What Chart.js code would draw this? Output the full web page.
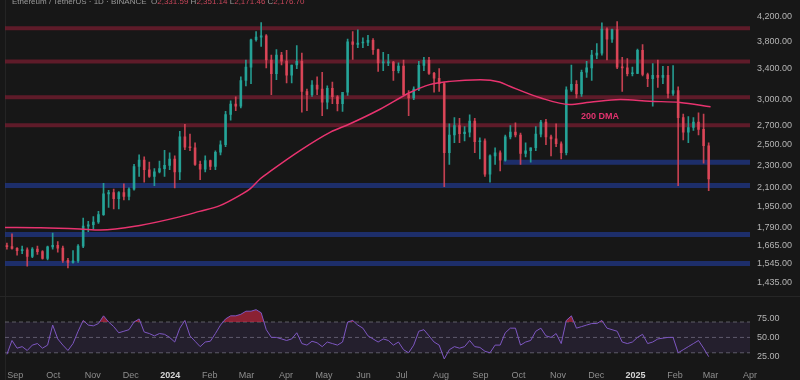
<!DOCTYPE html>
<html>
<head>
<meta charset="utf-8">
<script src="https://cdn.jsdelivr.net/npm/chart.js@4.4.1/dist/chart.umd.min.js"></script>
<style>
  html, body { margin: 0; padding: 0; background: #171717; }
  #wrap { position: relative; width: 800px; height: 380px; overflow: hidden; background: #171717;
          font-family: 'Liberation Sans', Arial, sans-serif; }
  #title { position: absolute; left: 12px; top: -3px; font-size: 8px; color: #9a9a9a; white-space: nowrap; z-index: 3; }
  #title b { font-weight: normal; color: #c8465a; }
  #priceBox { position: absolute; left: 0; top: -10px; width: 800px; height: 315px; }
  #rsiBox { position: absolute; left: 0; top: 290px; width: 800px; height: 96px; }
  #sep { position: absolute; left: 0; top: 296px; width: 800px; height: 1px; background: #262626; }
  #edge { position: absolute; left: 5px; top: 0; width: 1px; height: 380px; background: #242424; }
</style>
</head>
<body>
<div id="wrap">
  <div id="edge"></div>
  <div id="sep"></div>
  <div id="title">Ethereum / TetherUS · 1D · BINANCE &nbsp;O<b>2,331.59</b> H<b>2,351.14</b> L<b>2,171.46</b> C<b>2,176.70</b></div>
  <div id="priceBox"><canvas id="price"></canvas></div>
  <div id="rsiBox"><canvas id="rsi"></canvas></div>
</div>
<script>
// x values are days counted from 2023-09-01
var firstDay = -8;      // first candle starts 2023-08-24
var candleStep = 4;     // 4-day candles

var opens = [1662,1657,1645,1630,1636,1592,1640,1624,1580,1655,1665,1647,1567,1555,1565,1660,1800,1810,1830,1885,
  2050,2060,2010,2060,2030,2090,2290,2350,2260,2200,2240,2270,2300,2360,2240,2580,2475,2470,2310,2265,
  2345,2290,2425,2500,2825,2945,2920,3240,3420,3820,3860,3880,3520,3330,3590,3505,3310,3450,3500,3100,
  3060,3180,3130,2970,3140,3035,2950,3090,3790,3750,3770,3780,3810,3670,3480,3480,3490,3370,3435,3060,
  3020,3130,3445,3515,3335,3270,3200,2420,2600,2700,2615,2630,2750,2530,2540,2220,2390,2420,2350,2580,
  2630,2600,2415,2440,2470,2610,2740,2580,2560,2510,2420,3120,3190,3070,3350,3410,3590,3620,3990,3830,
  3980,3420,3410,3330,3335,3660,3320,3265,3310,3280,3310,3075,3110,2790,2630,2680,2740,2660,2490];
var highs = [1680,1745,1650,1660,1648,1650,1660,1630,1660,1750,1690,1660,1580,1630,1670,1860,1835,1870,1910,2140,
  2080,2090,2070,2135,2100,2310,2400,2380,2330,2270,2340,2445,2420,2390,2640,2715,2610,2520,2340,2390,
  2350,2440,2540,2860,2985,3035,3290,3520,3830,3950,4095,3900,3590,3670,3630,3660,3450,3730,3620,3130,
  3240,3290,3350,3170,3220,3050,3060,3830,3950,3975,3850,3890,3840,3680,3630,3600,3500,3480,3520,3110,
  3160,3500,3560,3560,3350,3400,3220,2720,2790,2780,2690,2820,2780,2570,2560,2400,2470,2440,2600,2700,
  2730,2620,2520,2470,2690,2760,2770,2600,2720,2530,3160,3450,3240,3380,3500,3660,3760,4090,4010,3990,
  4110,3560,3540,3420,3680,3745,3340,3470,3520,3430,3430,3440,3160,2830,2800,2790,2845,2830,2520];
var lows = [1640,1640,1600,1610,1531,1585,1605,1575,1570,1640,1620,1555,1520,1550,1555,1650,1760,1780,1820,1880,
  1940,1930,1930,2000,2000,2080,2200,2150,2190,2120,2230,2200,2260,2100,2170,2450,2440,2300,2170,2240,
  2260,2260,2400,2480,2760,2870,2900,3170,3200,3800,3720,3410,3060,3250,3450,3210,3210,3400,2850,2870,
  3040,3060,2810,2890,2950,2865,2860,3050,3530,3700,3700,3730,3600,3360,3370,3440,3240,3340,3050,2810,
  3000,3110,3370,3320,3090,3100,2110,2310,2520,2520,2540,2580,2420,2360,2200,2150,2310,2250,2340,2560,
  2580,2310,2380,2330,2440,2580,2500,2390,2480,2360,2400,3100,3020,3040,3280,3240,3540,3590,3520,3780,
  3400,3100,3300,3300,3330,3300,3160,2920,3150,3200,3020,3050,2120,2550,2520,2650,2600,2320,2077];
var closes = [1657,1645,1630,1636,1592,1640,1624,1580,1655,1665,1647,1567,1555,1565,1660,1800,1810,1830,1885,2050,
  2060,2010,2060,2030,2090,2290,2350,2260,2200,2240,2270,2300,2360,2240,2580,2475,2470,2310,2265,2345,
  2290,2425,2500,2825,2945,2920,3240,3420,3820,3860,3880,3520,3330,3590,3505,3310,3450,3500,3100,3060,
  3180,3130,2970,3140,3035,2950,3090,3790,3750,3770,3780,3810,3670,3480,3480,3490,3370,3435,3060,3020,
  3130,3445,3515,3335,3270,3200,2420,2600,2700,2615,2630,2750,2530,2540,2220,2390,2420,2350,2580,2630,
  2600,2415,2440,2470,2610,2740,2580,2560,2510,2420,3120,3190,3070,3350,3410,3590,3620,3990,3830,3980,
  3420,3410,3330,3335,3660,3320,3265,3310,3280,3310,3075,3110,2790,2630,2680,2740,2660,2490,2177];

var rsiValues = [28,46,36,38,33,40,42,36,40,66,48,40,33,42,58,72,66,65,68,78,
  70,64,56,58,60,70,74,57,55,52,55,54,50,44,62,72,52,45,38,44,
  45,55,66,74,78,78,80,84,84,86,82,60,50,50,48,46,48,56,42,40,
  45,43,38,44,42,40,44,70,72,66,62,52,48,44,48,46,40,44,34,30,
  40,58,60,52,44,40,22,34,38,36,38,46,38,37,32,30,40,40,56,62,
  62,40,44,46,58,62,52,50,55,42,72,78,62,64,66,68,68,72,62,60,
  58,44,42,44,50,54,42,44,48,49,50,50,30,34,38,42,46,36,25];

var dmaDays = [-8,20,51,67,98,130,145,161,177,185,193,200,224,248,263,287,311,326,342,366,381,389,413,436,452,476,499,523,547];
var dmaValues = [1790,1788,1779,1772,1805,1870,1910,1955,2040,2094,2181,2240,2441,2630,2718,2885,3090,3187,3229,3250,3220,3166,3022,2941,2967,3000,2980,2965,2915];

var redLevels = [4000, 3500, 3030, 2705];
var blueLevels = [2330, 2120, 1740, 1548];
var blueStarts = [384, -8, -8, -8];

var priceTicks = [4200, 3800, 3400, 3000, 2700, 2500, 2300, 2100, 1950, 1790, 1665, 1545, 1435];
var rsiTicks = [25, 50, 75];
var monthDays = [0,30,61,91,122,153,182,213,243,274,304,335,366,396,427,457,488,519,547,578];
var monthLabels = ['Sep','Oct','Nov','Dec','2024','Feb','Mar','Apr','May','Jun','Jul','Aug','Sep','Oct','Nov','Dec','2025','Feb','Mar','Apr'];

var lastDay = 578;
var upColor = 'rgba(38,166,154,0.9)';
var downColor = 'rgba(226,72,90,0.85)';

Chart.defaults.font.family = "'Liberation Sans', Arial, sans-serif";
Chart.defaults.animation = false;

var candles = opens.map(function (o, i) {
  return { x: firstDay + i * candleStep + 1.5, o: o, h: highs[i], l: lows[i], c: closes[i] };
});
var candleColors = candles.map(function (c) { return c.c >= c.o ? upColor : downColor; });

function bandSet(level, start, color, width) {
  return { type: 'line', data: [{ x: start, y: level }, { x: lastDay, y: level }],
           borderColor: color, borderWidth: width, borderCapStyle: 'butt', pointRadius: 0, order: 5 };
}

var bands = [];
redLevels.forEach(function (v) { bands.push(bandSet(v, firstDay, 'rgba(125,30,50,0.7)', 4)); });
blueLevels.forEach(function (v, i) { bands.push(bandSet(v, blueStarts[i], 'rgba(32,55,135,0.75)', 5)); });

var dmaLabel = {
  id: 'dmaLabel',
  afterDatasetsDraw: function (chart) {
    var ctx = chart.ctx;
    ctx.save();
    ctx.font = "bold 9px 'Liberation Sans', Arial, sans-serif";
    ctx.fillStyle = '#e2336f';
    ctx.textAlign = 'center';
    ctx.textBaseline = 'middle';
    ctx.fillText('200 DMA', chart.scales.x.getPixelForValue(460), chart.scales.y.getPixelForValue(2803));
    ctx.restore();
  }
};

new Chart(document.getElementById('price'), {
  type: 'bar',
  data: {
    datasets: bands.concat([
      { type: 'bar', data: candles.map(function (c) { return { x: c.x, y: [c.l, c.h] }; }),
        backgroundColor: candleColors, barThickness: 1, grouped: false, order: 2 },
      { type: 'bar', data: candles.map(function (c) { return { x: c.x, y: [c.o, c.c] }; }),
        backgroundColor: candleColors, barThickness: 2, minBarLength: 1, grouped: false, order: 1 },
      { type: 'line', data: dmaDays.map(function (d, i) { return { x: d, y: dmaValues[i] }; }),
        borderColor: '#e8336f', borderWidth: 1.5, pointRadius: 0, cubicInterpolationMode: 'monotone', order: 0 }
    ])
  },
  options: {
    responsive: true,
    maintainAspectRatio: false,
    layout: { padding: { left: 5, right: 0, top: 12, bottom: 10 } },
    plugins: { legend: { display: false }, tooltip: { enabled: false } },
    scales: {
      x: { type: 'linear', min: firstDay, max: lastDay, offset: false, display: false },
      y: {
        type: 'logarithmic', position: 'right', min: 1376, max: 4442, beginAtZero: false,
        afterBuildTicks: function (s) { s.ticks = priceTicks.map(function (v) { return { value: v }; }); },
        afterFit: function (s) { s.width = 50; },
        grid: { display: false, drawTicks: false },
        border: { display: false },
        ticks: {
          autoSkip: false, padding: 7, color: '#b4b4b4', font: { size: 9 },
          callback: function (v) { return Number(v).toLocaleString('en-US', { minimumFractionDigits: 2, maximumFractionDigits: 2 }); }
        }
      }
    }
  },
  plugins: [dmaLabel]
});

function guide(level, extra) {
  var d = { data: [{ x: firstDay, y: level }, { x: lastDay, y: level }], borderColor: 'rgba(150,150,160,0.55)',
            borderDash: [4, 3], borderWidth: 1, pointRadius: 0, fill: false, order: 2 };
  return Object.assign(d, extra || {});
}

new Chart(document.getElementById('rsi'), {
  type: 'line',
  data: {
    datasets: [
      { data: rsiValues.map(function (v, i) { return { x: firstDay + i * candleStep + 1.5, y: v }; }),
        borderColor: '#7e57c2', borderWidth: 1, pointRadius: 0, order: 0,
        fill: { target: { value: 70 }, above: 'rgba(215,40,70,0.6)', below: 'rgba(0,0,0,0)' } },
      guide(70, { fill: { value: 30 }, backgroundColor: 'rgba(126,87,194,0.13)' }),
      guide(50),
      guide(30)
    ]
  },
  options: {
    responsive: true,
    maintainAspectRatio: false,
    layout: { padding: { left: 5, right: 0, top: 8, bottom: 0 } },
    plugins: { legend: { display: false }, tooltip: { enabled: false } },
    scales: {
      x: {
        type: 'linear', min: firstDay, max: lastDay, offset: false,
        afterBuildTicks: function (s) { s.ticks = monthDays.map(function (v) { return { value: v }; }); },
        afterFit: function (s) { s.height = 22; },
        grid: { display: false, drawTicks: false },
        border: { display: false },
        ticks: {
          autoSkip: false, maxRotation: 0, padding: 6,
          callback: function (v, i) { return monthLabels[i]; },
          color: function (c) { return /^\d/.test(monthLabels[c.index]) ? '#d6d6d6' : '#8e8e8e'; },
          font: function (c) { return { size: 9, weight: /^\d/.test(monthLabels[c.index]) ? 'bold' : 'normal' }; }
        }
      },
      y: {
        type: 'linear', position: 'right', min: 15.45, max: 95.45,
        afterBuildTicks: function (s) { s.ticks = rsiTicks.map(function (v) { return { value: v }; }); },
        afterFit: function (s) { s.width = 50; },
        grid: { display: false, drawTicks: false },
        border: { display: false },
        ticks: { autoSkip: false, padding: 7, color: '#b4b4b4', font: { size: 9 },
          callback: function (v) { return Number(v).toFixed(2); } }
      }
    }
  }
});
</script>
</body>
</html>
